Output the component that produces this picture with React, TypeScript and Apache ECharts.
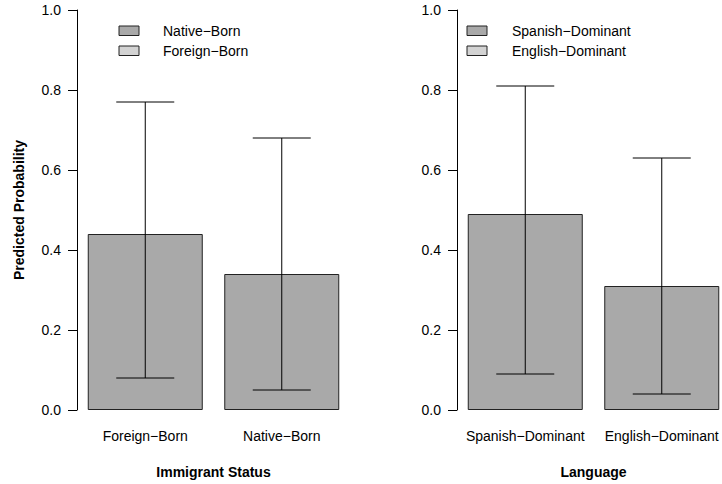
import React, { useEffect, useRef } from "react";
import * as echarts from "echarts";

const leftCategories = ["Foreign−Born", "Native−Born"];
const leftValues = [0.44, 0.34];
const leftLower = [0.08, 0.05];
const leftUpper = [0.77, 0.68];

const rightCategories = ["Spanish−Dominant", "English−Dominant"];
const rightValues = [0.49, 0.31];
const rightLower = [0.09, 0.04];
const rightUpper = [0.81, 0.63];

const leftLegend = ["Native−Born", "Foreign−Born"];
const rightLegend = ["Spanish−Dominant", "English−Dominant"];
const legendColors = ["#A9A9A9", "#D3D3D3"];

const yTitle = "Predicted Probability";
const leftXTitle = "Immigrant Status";
const rightXTitle = "Language";

const FONT = "'Liberation Sans', Arial, Helvetica, sans-serif";
const BAR_FILL = "#A9A9A9";
const CAP_HALF = 29;

function errorSeries(idx: number, lower: number[], upper: number[]) {
  return {
    type: "custom",
    xAxisIndex: idx,
    yAxisIndex: idx,
    z: 5,
    clip: false,
    data: lower.map((lo, i) => [i, lo, upper[i]]),
    encode: { x: 0, y: [1, 2] },
    renderItem: (params: any, api: any) => {
      const x = api.value(0);
      const pLo = api.coord([x, api.value(1)]);
      const pHi = api.coord([x, api.value(2)]);
      const st = { stroke: "#000", lineWidth: 1 };
      return {
        type: "group",
        children: [
          { type: "line", shape: { x1: pLo[0], y1: pLo[1], x2: pHi[0], y2: pHi[1] }, style: st },
          { type: "line", shape: { x1: pLo[0] - CAP_HALF, y1: pLo[1], x2: pLo[0] + CAP_HALF, y2: pLo[1] }, style: st },
          { type: "line", shape: { x1: pHi[0] - CAP_HALF, y1: pHi[1], x2: pHi[0] + CAP_HALF, y2: pHi[1] }, style: st },
        ],
      };
    },
  };
}

function legendGraphics(names: string[], boxX: number, textX: number) {
  const out: any[] = [];
  names.forEach((n, i) => {
    out.push({
      type: "rect",
      shape: { x: boxX, y: 26 + i * 20, width: 20, height: 9.5 },
      style: { fill: legendColors[i], stroke: "#222", lineWidth: 1 },
    });
    out.push({
      type: "text",
      x: textX,
      y: 31 + i * 20,
      style: { text: n, font: `14px ${FONT}`, fill: "#000", verticalAlign: "middle", align: "left" },
    });
  });
  return out;
}

export default function App() {
  const ref = useRef<HTMLDivElement>(null);
  useEffect(() => {
    if (!ref.current) return;
    const chart = echarts.init(ref.current, null, { renderer: "svg" });
    const yAxisCommon = {
      type: "value",
      min: 0,
      max: 1,
      interval: 0.2,
      splitLine: { show: false },
      axisLine: { show: true, lineStyle: { color: "#000", width: 1 } },
      axisTick: { show: true, length: 9, lineStyle: { color: "#000" } },
      axisLabel: {
        fontSize: 14,
        fontFamily: FONT,
        color: "#000",
        margin: 16,
        formatter: (v: number) => v.toFixed(1),
      },
    };
    const xAxisCommon = {
      type: "category",
      axisLine: { show: false },
      axisTick: { show: false },
      axisLabel: { fontSize: 14, fontFamily: FONT, color: "#000", margin: 19, interval: 0 },
      nameLocation: "middle",
      nameGap: 55,
      nameTextStyle: { fontSize: 14, fontFamily: FONT, fontWeight: "bold", color: "#000" },
    };
    chart.setOption({
      animation: false,
      backgroundColor: "#fff",
      grid: [
        { left: 77, top: 10, width: 273, height: 401 },
        { left: 457, top: 10, width: 273, height: 401 },
      ],
      xAxis: [
        { ...xAxisCommon, gridIndex: 0, data: leftCategories, name: leftXTitle },
        { ...xAxisCommon, gridIndex: 1, data: rightCategories, name: rightXTitle },
      ],
      yAxis: [
        {
          ...yAxisCommon,
          gridIndex: 0,
          name: yTitle,
          nameLocation: "middle",
          nameGap: 51,
          nameTextStyle: { fontSize: 14, fontFamily: FONT, fontWeight: "bold", color: "#000" },
        },
        { ...yAxisCommon, gridIndex: 1 },
      ],
      series: [
        {
          type: "bar",
          xAxisIndex: 0,
          yAxisIndex: 0,
          data: leftValues,
          barWidth: 115,
          itemStyle: { color: BAR_FILL, borderColor: "#222", borderWidth: 1 },
        },
        {
          type: "bar",
          xAxisIndex: 1,
          yAxisIndex: 1,
          data: rightValues,
          barWidth: 115,
          itemStyle: { color: BAR_FILL, borderColor: "#222", borderWidth: 1 },
        },
        errorSeries(0, leftLower, leftUpper),
        errorSeries(1, rightLower, rightUpper),
      ],
      graphic: [...legendGraphics(leftLegend, 119, 163), ...legendGraphics(rightLegend, 467, 512)],
    });
    return () => chart.dispose();
  }, []);
  return (
    <div
      style={{
        position: "fixed",
        left: 0,
        top: 0,
        width: 722,
        height: 484,
        overflow: "hidden",
        background: "#fff",
      }}
    >
      <div ref={ref} style={{ width: 745, height: 484 }} />
    </div>
  );
}
